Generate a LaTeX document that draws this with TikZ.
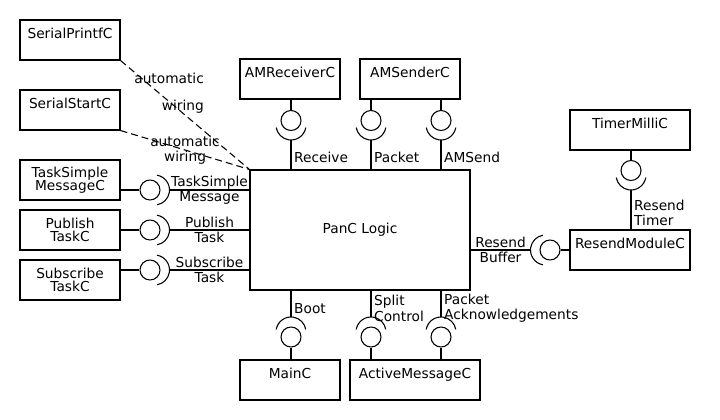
\documentclass[tikz,border=0pt]{standalone}
\usepackage{fontspec}
\setmainfont{DejaVu Sans}

\tikzset{
    comp/.style={draw, minimum width=75pt, minimum height=30pt, align=center, inner sep=0pt, font=\fontsize{10.3}{9.8}\selectfont},
    single/.style={text height=7.5pt, text depth=9.75pt},
    ball/.style={draw, circle, minimum size=15pt, inner sep=0pt},
    lbl/.style={inner sep=2pt, align=left, font=\fontsize{10.3}{11.6}\selectfont},
    wire/.style={dash pattern=on 5.25pt off 3pt},
}

\begin{document}
\begin{tikzpicture}[x=0.75pt, y=-0.75pt, line width=0.8pt]

    \useasboundingbox (0,0) rectangle (720,420);

    %% Components

    % Left column
    \node[comp, single] (spf) at (70,40) {SerialPrintfC};
    \node[comp, single] (sst) at (70,110) {SerialStartC};
    \node[comp] (tsm) at (70,180) {TaskSimple\\MessageC};
    \node[comp] (pub) at (70,230) {Publish\\TaskC};
    \node[comp] (sub) at (70,280) {Subscribe\\TaskC};

    % Main module
    \node[comp, minimum width=165pt, minimum height=90pt] (pan) at (360,230) {PanC Logic};

    % Top row
    \node[comp, single] (amr) at (290,79) {AMReceiverC};
    \node[comp, single] (ams) at (410,79) {AMSenderC};

    % Right column
    \node[comp, single, minimum width=90pt] (tmc) at (630,130) {TimerMilliC};
    \node[comp, single, minimum width=90pt] (rsm) at (630,250) {ResendModuleC};

    % Bottom row
    \node[comp, single] (mnc) at (290,380) {MainC};
    \node[comp, single, minimum width=97.5pt] (amc) at (415,380) {ActiveMessageC};

    %% Automatic wiring

    \draw[wire] (spf.south east) -- (pan.north west);
    \node[lbl, align=right, anchor=east] (wirea) at (207,93) {automatic\\[9pt]wiring};
    \draw[wire] (sst.south east) -- (pan.north west) node[lbl, align=center, midway] (wireb) {automatic\\wiring};

    %% Interfaces on top

    % Receive
    \node[ball] (rcvb) at (291,120.5) {};
    \coordinate (rcvs) at (291,125);
    \coordinate (rcva) at (291,140);
    \draw (rcvb.north |- amr.south) -- (rcvb.north);
    \draw (rcvs) ++(10:15) arc[start angle=10, end angle=170, radius=15];
    \draw (rcva) -- (rcva |- pan.north) node[lbl, anchor=west, pos=0.6] {Receive};

    % Packet
    \node[ball] (pktb) at (371,120.5) {};
    \coordinate (pkts) at (371,125);
    \coordinate (pkta) at (371,140);
    \draw (pktb.north |- ams.south) -- (pktb.north);
    \draw (pkts) ++(10:15) arc[start angle=10, end angle=170, radius=15];
    \draw (pkta) -- (pkta |- pan.north) node[lbl, anchor=west, pos=0.6] {Packet};

    % AMSend
    \node[ball] (sndb) at (441,120.5) {};
    \coordinate (snds) at (441,125);
    \coordinate (snda) at (441,140);
    \draw (sndb.north |- ams.south) -- (sndb.north);
    \draw (snds) ++(10:15) arc[start angle=10, end angle=170, radius=15];
    \draw (snda) -- (snda |- pan.north) node[lbl, anchor=west, pos=0.6] {AMSend};

    %% Interfaces on the left

    % TaskSimpleMessage
    \node[ball] (tsmb) at (150,190) {};
    \coordinate (tsms) at (154.5,190);
    \coordinate (tsma) at (169.5,190);
    \draw (tsm.east |- tsmb) -- (tsmb.west);
    \draw (tsms) ++(-80:15) arc[start angle=-80, end angle=80, radius=15];
    \draw (tsma) -- (tsma -| pan.west) node[lbl, align=center, midway] {TaskSimple\\Message};

    % PublishTask
    \node[ball] (pubb) at (150,230) {};
    \coordinate (pubs) at (154.5,230);
    \coordinate (puba) at (169.5,230);
    \draw (pub.east |- pubb) -- (pubb.west);
    \draw (pubs) ++(-80:15) arc[start angle=-80, end angle=80, radius=15];
    \draw (puba) -- (puba -| pan.west) node[lbl, align=center, midway] {Publish\\Task};

    % SubscribeTask
    \node[ball] (subb) at (150,270) {};
    \coordinate (subs) at (154.5,270);
    \coordinate (suba) at (169.5,270);
    \draw (sub.east |- subb) -- (subb.west);
    \draw (subs) ++(-80:15) arc[start angle=-80, end angle=80, radius=15];
    \draw (suba) -- (suba -| pan.west) node[lbl, align=center, midway] {Subscribe\\Task};

    %% Interfaces below

    % Boot
    \node[ball] (bootb) at (291,337) {};
    \coordinate (boots) at (291,332);
    \coordinate (boota) at (291,317);
    \draw (bootb.south) -- (bootb.south |- mnc.north);
    \draw (boots) ++(190:15) arc[start angle=190, end angle=350, radius=15];
    \draw (boota |- pan.south) -- (boota) node[lbl, anchor=west, pos=0.67] {Boot};

    % SplitControl
    \node[ball] (spcb) at (371,337) {};
    \coordinate (spcs) at (371,332);
    \coordinate (spca) at (371,317);
    \draw (spcb.south) -- (spcb.south |- amc.north);
    \draw (spcs) ++(190:15) arc[start angle=190, end angle=350, radius=15];
    \draw (spca |- pan.south) -- (spca) node[lbl, anchor=west, pos=0.67] {Split\\Control};

    % PacketAcknowledgements
    \node[ball] (ackb) at (441,337) {};
    \coordinate (acks) at (441,332);
    \coordinate (acka) at (441,317);
    \draw (ackb.south) -- (ackb.south |- amc.north);
    \draw (acks) ++(190:15) arc[start angle=190, end angle=350, radius=15];
    \draw (acka |- pan.south) -- (acka) node[lbl, anchor=west, pos=0.67] {Packet\\Acknowledgements};

    %% Resend module

    % ResendBuffer
    \node[ball] (rbfb) at (550,250) {};
    \coordinate (rbfs) at (545.5,250);
    \coordinate (rbfa) at (530.5,250);
    \draw (rbfb.east) -- (rbfb.east -| rsm.west);
    \draw (rbfs) ++(100:15) arc[start angle=100, end angle=260, radius=15];
    \draw (rbfa -| pan.east) -- (rbfa) node[lbl, align=center, midway] {Resend\\Buffer};

    % ResendTimer
    \node[ball] (rtmb) at (631,170.5) {};
    \coordinate (rtms) at (631,175);
    \coordinate (rtma) at (631,190);
    \draw (rtmb.north |- tmc.south) -- (rtmb.north);
    \draw (rtms) ++(10:15) arc[start angle=10, end angle=170, radius=15];
    \draw (rtma) -- (rtma |- rsm.north) node[lbl, anchor=west, pos=0.58] {Resend\\Timer};

\end{tikzpicture}
\end{document}
